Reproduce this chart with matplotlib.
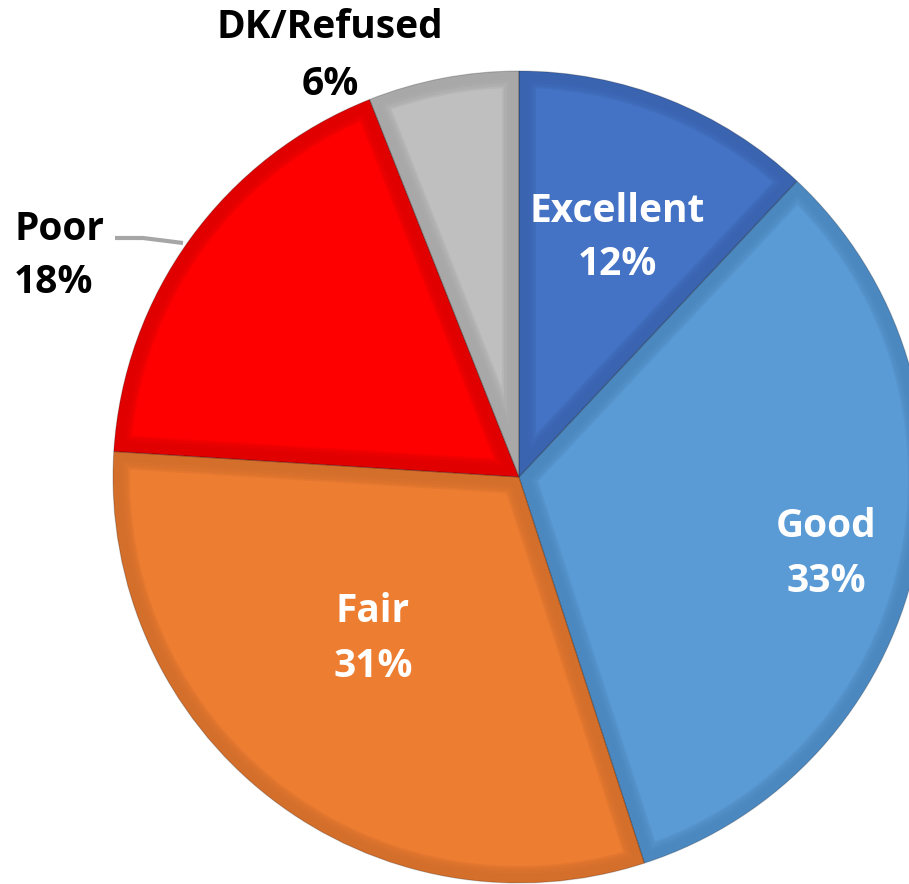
import numpy as np
import matplotlib
matplotlib.use("Agg")
import matplotlib.pyplot as plt
from matplotlib.patches import Wedge, Polygon
from matplotlib.colors import to_rgb

# ---- data ----
categories = ["Excellent", "Good", "Fair", "Poor", "DK/Refused"]
values = [12, 33, 31, 18, 6]
pct_labels = ["12%", "33%", "31%", "18%", "6%"]
colors = ["#4472C4", "#5B9BD5", "#ED7D31", "#FF0000", "#BFBFBF"]
edge_colors = ["#3A64B0", "#4C88C0", "#D36E2B", "#E00000", "#A8A8A8"]

FONT = ["Open Sans", "DejaVu Sans"]

W, H = 909, 884
fig = plt.figure(figsize=(W / 100, H / 100), dpi=100)
ax = fig.add_axes([0, 0, 1, 1])

cx, cy, r = 519, H - 477, 406
wedges, _ = ax.pie(values, colors=colors, startangle=90, counterclock=False,
                   center=(cx, cy), radius=r, wedgeprops=dict(linewidth=0))


def inset_poly(c, rad, t1, t2, d, n=200):
    dt = np.radians(t2 - t1)
    mid = np.radians((t1 + t2) / 2)
    a = d / np.sin(dt / 2)
    apex = (c[0] + a * np.cos(mid), c[1] + a * np.sin(mid))
    delta = np.degrees(np.arcsin(d / (rad - d)))
    th = np.radians(np.linspace(t1 + delta, t2 - delta, n))
    pts = [apex] + [(c[0] + (rad - d) * np.cos(t), c[1] + (rad - d) * np.sin(t))
                    for t in th]
    return pts


def mix(c1, c2, f):
    a, b = np.array(to_rgb(c1)), np.array(to_rgb(c2))
    return tuple(a + (b - a) * f)


steps = [(9, 0.1), (12, 0.3), (15, 0.6), (17, 1.0)]
for w, main, dark in zip(wedges, colors, edge_colors):
    w.set_facecolor(dark)
    for d, f in steps:
        poly = Polygon(inset_poly(w.center, w.r, w.theta1, w.theta2, d),
                       closed=True, facecolor=mix(dark, main, f),
                       edgecolor="none", linewidth=0)
        ax.add_patch(poly)

# thin separators
for w in wedges:
    ax.add_patch(Wedge(w.center, w.r, w.theta1, w.theta2, facecolor="none",
                       edgecolor=(0, 0, 0, 0.2), linewidth=0.8))

ax.set_xlim(0, W)
ax.set_ylim(0, H)
ax.set_aspect("equal")
ax.axis("off")

fs = 28
kw = dict(fontsize=fs, fontweight="bold", family=FONT, va="baseline")


def label(x, y1, y2, name, pct, color, ha="center"):
    ax.text(x, H - y1, name, color=color, ha=ha, **kw)
    ax.text(x, H - y2, pct, color=color, ha=ha, **kw)


label(617, 222, 275, categories[0], pct_labels[0], "white")
label(826, 537, 592, categories[1], pct_labels[1], "white")
label(373, 622, 677, categories[2], pct_labels[2], "white")
label(14, 240, 293, categories[3], pct_labels[3], "black", ha="left")
label(330, 38, 95, categories[4], pct_labels[4], "black")

# leader line for Poor
ax.plot([115, 143, 183], [H - 238, H - 238, H - 243], color="#A6A6A6",
        linewidth=3, solid_capstyle="butt")

fig.savefig("out.png", dpi=100)
